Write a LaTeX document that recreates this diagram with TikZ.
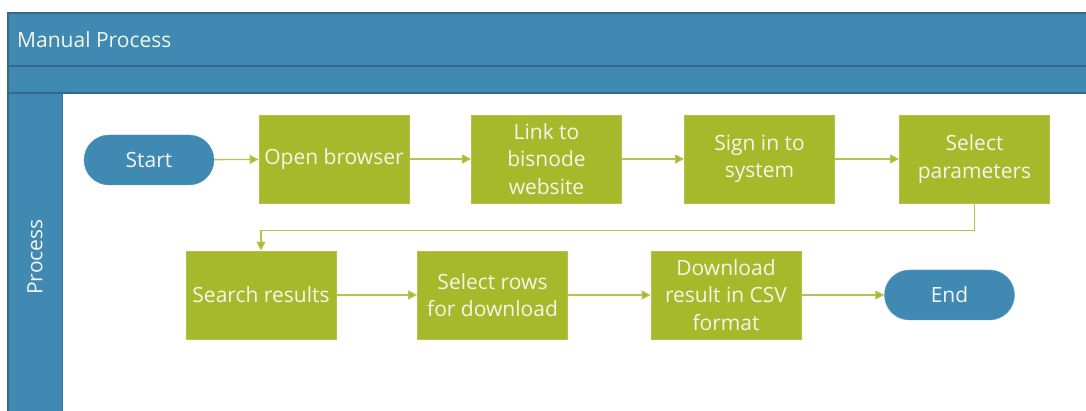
\documentclass[tikz,border=0pt]{standalone}
\usepackage{fontspec}
\setmainfont{Open Sans}
\usetikzlibrary{arrows.meta}
\definecolor{laneblue}{HTML}{3F89B3}
\definecolor{laneedge}{HTML}{33698C}
\definecolor{boxgreen}{HTML}{A6B92A}
\definecolor{linegreen}{HTML}{B3C44F}
\definecolor{txt}{HTML}{F4F6EC}
\tikzset{
  lbl/.style={font=\fontsize{21}{27.5}\selectfont},
  stepbox/.style={lbl, fill=boxgreen, draw=boxgreen!85!white, line width=0.8pt, minimum width=150pt, minimum height=88pt, inner sep=1pt, text=txt, align=center},
  term/.style={lbl, fill=laneblue, draw=laneblue!85!white, rounded corners=25pt, minimum width=130pt, minimum height=50pt, text=txt},
  conn/.style={draw=linegreen, line width=1.3pt, -{Triangle[length=9pt,width=9pt,fill=boxgreen]}},
}
\begin{document}
\begin{tikzpicture}[x=1pt,y=-1pt]
\useasboundingbox (0,0) rectangle (1086,411);
\clip (0,0) rectangle (1086,411);
% lane frame
\fill[laneblue] (8,13) rectangle (1095,420);
\fill[white] (62,93) rectangle (1095,420);
\draw[laneedge, line width=1.5pt] (8,420) -- (8,13) -- (1095,13);
\draw[laneedge, line width=1.5pt] (8,66) -- (1095,66);
\draw[laneedge, line width=1.5pt] (8,93) -- (1095,93);
\draw[laneedge!70!laneblue, line width=1pt] (62,93) -- (62,420);
\node[lbl, anchor=west, text=txt, inner sep=0pt] (title) at (17,40) {Manual Process};
\node[lbl, rotate=90, text=txt, inner sep=0pt] (lane) at (35,257) {Process};
% nodes
\node[term] (start) at (149,160) {Start};
\node[stepbox] (open) at (334,159) {Open browser};
\node[stepbox] (link) at (546.5,159) {Link to\\bisnode\\website};
\node[stepbox] (sign) at (759.5,159) {Sign in to\\system};
\node[stepbox] (param) at (974.5,159) {Select\\parameters};
\node[stepbox] (search) at (261,295) {Search results};
\node[stepbox] (rows) at (492.5,295) {Select rows\\for download};
\node[stepbox] (down) at (726,295) {Download\\result in CSV\\format};
\node[term] (end) at (949.5,295) {End};
% connectors
\draw[conn] (start) -- (open);
\draw[conn] (open) -- (link);
\draw[conn] (link) -- (sign);
\draw[conn] (sign) -- (param);
\draw[conn] (param.south) -- ++(0,27) -| (search.north);
\draw[conn] (search) -- (rows);
\draw[conn] (rows) -- (down);
\draw[conn] (down) -- (end);
\end{tikzpicture}
\end{document}
